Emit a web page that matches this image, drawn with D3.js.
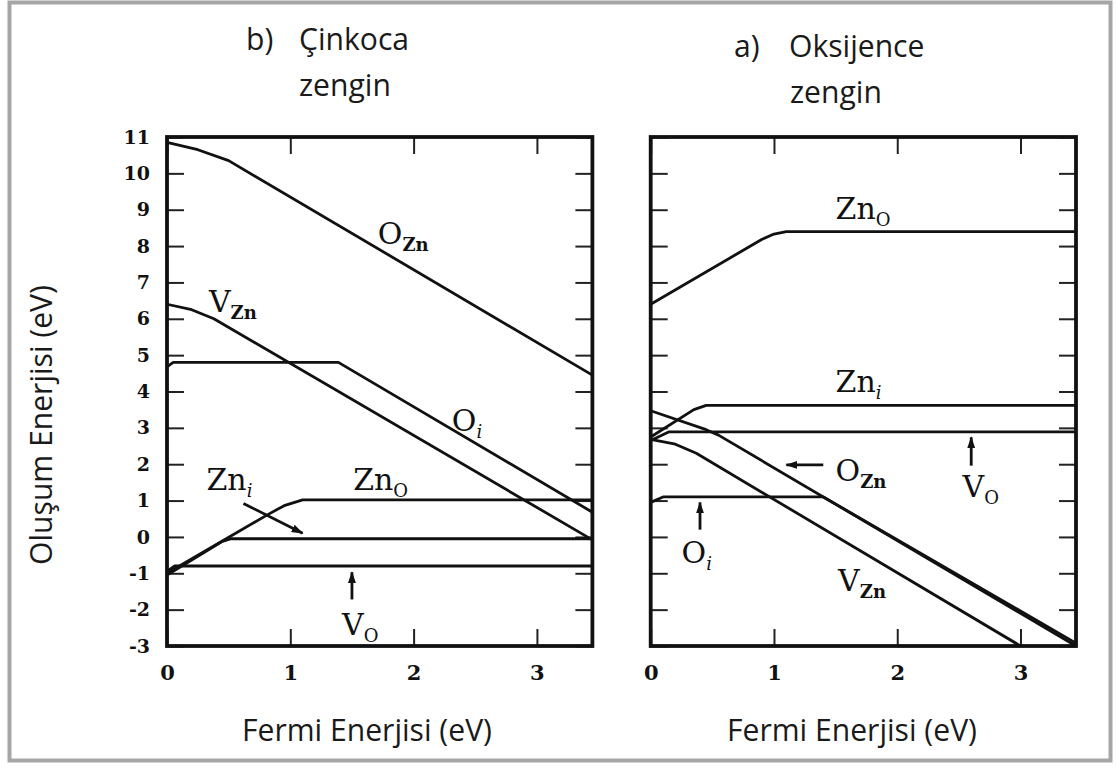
<!DOCTYPE html>
<html>
<head>
<meta charset="utf-8">
<script src="https://cdn.jsdelivr.net/npm/d3@7"></script>
<style>
body { margin: 0; background: #fff; }
svg { display: block; }
</style>
</head>
<body>
<svg id="chart" width="1118" height="769"></svg>
<script>
// axis ranges and ticks
const xDomain = [0, 3.45];
const yDomain = [-3, 11];
const xTickValues = [0, 1, 2, 3];
const yTickValues = [11, 10, 9, 8, 7, 6, 5, 4, 3, 2, 1, 0, -1, -2, -3];

// b) zinc rich  [Fermi energy, formation energy]
const zincRichOZn = [[0, 10.85], [0.25, 10.65], [0.5, 10.35], [3.45, 4.45]];
const zincRichVZn = [[0, 6.4], [0.2, 6.25], [0.38, 6.0], [3.45, -0.08]];
const zincRichOi  = [[0, 4.68], [0.05, 4.8], [1.39, 4.8], [3.45, 0.68]];
const zincRichZnO = [[0, -1.0], [0.81, 0.6], [0.95, 0.86], [1.1, 1.02], [3.45, 1.02]];
const zincRichZni = [[0, -1.05], [0.45, -0.12], [0.52, -0.05], [3.45, -0.05]];
const zincRichVO  = [[0, -0.95], [0.06, -0.8], [3.45, -0.8]];

// a) oxygen rich
const oxygenRichZnO = [[0, 6.4], [0.9, 8.18], [1.0, 8.33], [1.1, 8.4], [3.45, 8.4]];
const oxygenRichZni = [[0, 2.75], [0.35, 3.5], [0.45, 3.62], [3.45, 3.62]];
const oxygenRichVO  = [[0, 2.65], [0.15, 2.89], [3.45, 2.89]];
const oxygenRichOZn = [[0, 3.47], [0.45, 2.95], [0.55, 2.8], [3.45, -3.0]];
const oxygenRichVZn = [[0, 2.68], [0.2, 2.55], [0.37, 2.3], [3.0, -3.0]];
const oxygenRichOi  = [[0, 0.95], [0.1, 1.1], [1.4, 1.1], [3.45, -2.92]];

// curve labels: x, y (data units), symbol, subscript
const zincRichLabels = [
  [1.71, 8.07, "O", "Zn"],
  [0.34, 6.19, "V", "Zn"],
  [2.31, 2.92, "O", "i"],
  [0.32, 1.29, "Zn", "i"],
  [1.51, 1.29, "Zn", "O"],
  [1.42, -2.70, "V", "O"]
];
const oxygenRichLabels = [
  [1.50, 8.74, "Zn", "O"],
  [1.50, 3.98, "Zn", "i"],
  [1.50, 1.53, "O", "Zn"],
  [2.53, 1.10, "V", "O"],
  [0.25, -0.73, "O", "i"],
  [1.52, -1.50, "V", "Zn"]
];
const zincRichArrows = [[[0.62, 0.92], [1.1, 0.1]], [[1.5, -1.72], [1.5, -0.97]]];
const oxygenRichArrows = [[[1.40, 1.98], [1.10, 1.98]], [[2.6, 1.96], [2.6, 2.74]], [[0.4, 0.2], [0.4, 0.95]]];

const svg = d3.select("#chart");
const sans = "'Open Sans', 'Noto Sans', sans-serif";
const serif = "'DejaVu Serif', 'Liberation Serif', serif";

// grey picture border
svg.append("rect")
  .attr("x", 9.5).attr("y", 2.5)
  .attr("width", 1101).attr("height", 758)
  .attr("fill", "#fff")
  .attr("stroke", "#a6a6a6")
  .attr("stroke-width", 4);

svg.append("defs").append("marker")
  .attr("id", "head")
  .attr("markerUnits", "userSpaceOnUse")
  .attr("markerWidth", 12).attr("markerHeight", 10)
  .attr("refX", 11).attr("refY", 5)
  .attr("orient", "auto")
  .append("path")
  .attr("d", "M0,1 L12,5 L0,9 Z")
  .attr("fill", "#111");

const y = d3.scaleLinear().domain(yDomain).range([646, 137]);
const line = x => d3.line().x(d => x(d[0])).y(d => y(d[1]));

function drawPanel(x, series, labels, arrows, showYLabels) {
  let g = svg.append("g");
  let [x0, x1] = x.range();
  let [y0, y1] = y.range();

  let bottom = g.append("g")
    .attr("transform", `translate(0,${y0})`)
    .call(d3.axisBottom(x).tickValues(xTickValues).tickSize(-17).tickPadding(19).tickFormat(d3.format("d")));
  g.append("g")
    .attr("transform", `translate(0,${y1})`)
    .call(d3.axisTop(x).tickValues(xTickValues).tickSize(-17).tickFormat(""));
  g.append("g")
    .attr("transform", `translate(${x0},0)`)
    .call(d3.axisLeft(y).tickValues(yTickValues).tickSize(-17).tickPadding(17)
      .tickFormat(d => showYLabels ? (d < 0 ? "-" + Math.abs(d) : d) : ""));
  g.append("g")
    .attr("transform", `translate(${x1},0)`)
    .call(d3.axisRight(y).tickValues(yTickValues).tickSize(-17).tickFormat(""));

  g.selectAll(".domain").remove();
  g.selectAll(".tick line").attr("stroke", "#222").attr("stroke-width", 2);
  g.selectAll(".tick text")
    .attr("fill", "#111")
    .style("font-family", serif)
    .style("font-weight", "bold")
    .style("font-size", "19px");
  bottom.selectAll(".tick text").style("font-size", "21px");

  series.forEach(s => {
    g.append("path")
      .datum(s)
      .attr("fill", "none")
      .attr("stroke", "#111")
      .attr("stroke-width", 2.8)
      .attr("stroke-linejoin", "round")
      .attr("d", line(x));
  });

  g.append("rect")
    .attr("x", x0).attr("y", y1)
    .attr("width", x1 - x0).attr("height", y0 - y1)
    .attr("fill", "none")
    .attr("stroke", "#111")
    .attr("stroke-width", 3.8);

  labels.forEach(l => {
    let t = g.append("text")
      .attr("x", x(l[0])).attr("y", y(l[1]))
      .attr("fill", "#111")
      .style("font-family", serif)
      .style("font-size", "30px");
    t.append("tspan").text(l[2]);
    t.append("tspan")
      .attr("dy", 7)
      .style("font-size", "18px")
      .style("font-style", l[3] === "i" ? "italic" : "normal")
      .style("font-weight", l[3] === "Zn" ? "bold" : "normal")
      .text(l[3]);
  });

  arrows.forEach(a => {
    g.append("line")
      .attr("x1", x(a[0][0])).attr("y1", y(a[0][1]))
      .attr("x2", x(a[1][0])).attr("y2", y(a[1][1]))
      .attr("stroke", "#111")
      .attr("stroke-width", 2.8)
      .attr("marker-end", "url(#head)");
  });
}

const xLeft = d3.scaleLinear().domain(xDomain).range([167, 592.4]);
const xRight = d3.scaleLinear().domain(xDomain).range([650.7, 1076]);

drawPanel(xLeft, [zincRichOZn, zincRichVZn, zincRichOi, zincRichZnO, zincRichZni, zincRichVO],
  zincRichLabels, zincRichArrows, true);
drawPanel(xRight, [oxygenRichZnO, oxygenRichZni, oxygenRichVO, oxygenRichOZn, oxygenRichVZn, oxygenRichOi],
  oxygenRichLabels, oxygenRichArrows, false);

// titles and axis names
const texts = svg.append("g").attr("fill", "#1a1a1a").style("font-family", sans);
let xtl = texts.append("text").attr("x", 367).attr("y", 741).attr("text-anchor", "middle")
  .style("font-size", "26px").text("Fermi Enerjisi (eV)");
let fs = 26 * 250 / xtl.node().getComputedTextLength();
xtl.style("font-size", fs + "px");
texts.append("text").attr("x", 852).attr("y", 741).attr("text-anchor", "middle")
  .style("font-size", fs + "px").text("Fermi Enerjisi (eV)");
texts.append("text")
  .attr("transform", "translate(52,425) rotate(-90)")
  .attr("text-anchor", "middle")
  .style("font-size", fs + "px").text("Oluşum Enerjisi (eV)");

const titles = [
  [246, 50, "b)"], [299, 50, "Çinkoca"], [299, 96, "zengin"],
  [734, 57, "a)"], [789, 57, "Oksijence"], [790, 103, "zengin"]
];
titles.forEach(t => {
  texts.append("text").attr("x", t[0]).attr("y", t[1])
    .style("font-size", fs + "px").text(t[2]);
});
</script>
</body>
</html>
